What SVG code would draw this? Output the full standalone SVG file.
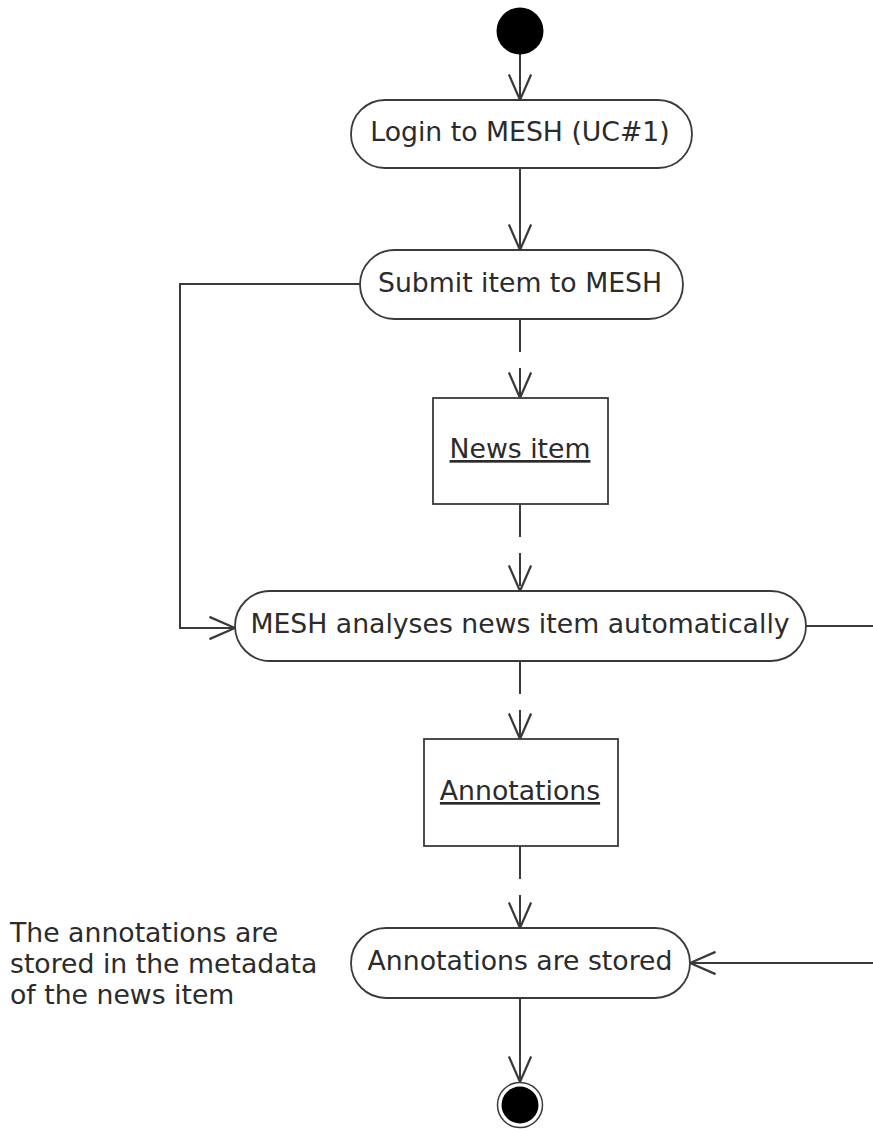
<svg xmlns="http://www.w3.org/2000/svg" width="873" height="1129" viewBox="0 0 873 1129">
  <defs>
    <style>
      .txt { font-family: "DejaVu Sans", Verdana, sans-serif; font-size: 26.7px; fill: #2b2b2b; }
      .mid { text-anchor: middle; }
      .ul { text-decoration: underline; }
      .act { fill: #fff; stroke: #3a3a3a; stroke-width: 1.8; }
      .obj { fill: #fff; stroke: #3a3a3a; stroke-width: 1.8; }
      .flow { fill: none; stroke: #3a3a3a; stroke-width: 2; marker-end: url(#open); }
      .plain { fill: none; stroke: #3a3a3a; stroke-width: 2; }
      .dash { stroke-dasharray: 33 16; }
    </style>
    <marker id="open" markerUnits="userSpaceOnUse" markerWidth="30" markerHeight="30" viewBox="-25 -12 27 24" refX="0" refY="0" orient="auto">
      <path d="M -23 -10 L 0 0 L -23 10" fill="none" stroke="#3a3a3a" stroke-width="2"/>
    </marker>
  </defs>

  <!-- connectors -->
  <g id="connectors">
    <line class="flow" x1="520" y1="54" x2="520" y2="100"/>
    <line class="flow" x1="520" y1="168" x2="520" y2="250"/>
    <polyline class="flow" points="360,284 180,284 180,628 235,628"/>
    <line class="flow dash" x1="520" y1="319" x2="520" y2="398"/>
    <line class="flow dash" x1="520" y1="504" x2="520" y2="591"/>
    <line class="flow dash" x1="520" y1="661" x2="520" y2="739"/>
    <line class="flow dash" x1="520" y1="846" x2="520" y2="928"/>
    <line class="plain" x1="806" y1="626" x2="873" y2="626"/>
    <line class="flow" x1="873" y1="963" x2="690" y2="963"/>
    <line class="flow" x1="520" y1="998" x2="520" y2="1082"/>
  </g>

  <!-- initial node -->
  <g id="start">
    <circle cx="520" cy="31" r="23.5" fill="#000"/>
  </g>

  <g id="login">
    <rect class="act" x="351" y="100" width="341" height="68" rx="34" ry="34"/>
    <text class="txt mid" x="520" y="141">Login to MESH (UC#1)</text>
  </g>

  <g id="submit">
    <rect class="act" x="360" y="250" width="323" height="69" rx="34.5" ry="34.5"/>
    <text class="txt mid" x="520" y="292">Submit item to MESH</text>
  </g>

  <g id="newsItem">
    <rect class="obj" x="433" y="398" width="175" height="106"/>
    <text class="txt mid ul" x="520" y="458">News item</text>
  </g>

  <g id="analyse">
    <rect class="act" x="235" y="591" width="571" height="70" rx="35" ry="35"/>
    <text class="txt mid" x="520" y="633">MESH analyses news item automatically</text>
  </g>

  <g id="annotations">
    <rect class="obj" x="424" y="739" width="194" height="107"/>
    <text class="txt mid ul" x="520" y="800">Annotations</text>
  </g>

  <g id="stored">
    <rect class="act" x="351" y="928" width="339" height="70" rx="35" ry="35"/>
    <text class="txt mid" x="520" y="970">Annotations are stored</text>
  </g>

  <!-- note beside the store step -->
  <g id="note">
    <text class="txt" x="10" y="942">The annotations are</text>
    <text class="txt" x="10" y="973">stored in the metadata</text>
    <text class="txt" x="10" y="1004">of the news item</text>
  </g>

  <!-- final node -->
  <g id="end">
    <circle cx="520" cy="1105" r="22.5" fill="#fff" stroke="#3a3a3a" stroke-width="1.5"/>
    <circle cx="520" cy="1105" r="18.5" fill="#000"/>
  </g>
</svg>
